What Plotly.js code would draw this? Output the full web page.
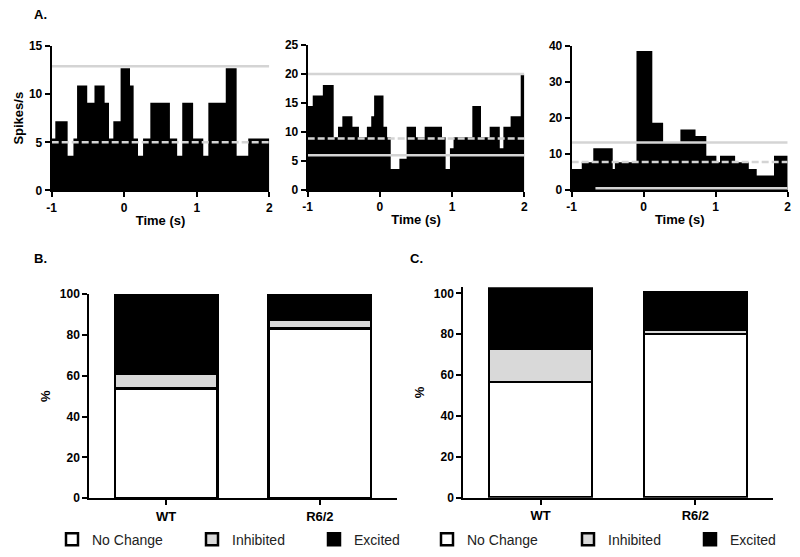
<!DOCTYPE html>
<html>
<head>
<meta charset="utf-8">
<script src="https://cdn.plot.ly/plotly-3.0.1.min.js"></script>
<style>
body { margin: 0; background: #fff; }
#chart { width: 800px; height: 557px; }
</style>
</head>
<body>
<div id="chart"></div>
<script>
// A. PSTHs: left edge of each bin (s) and firing rate (spikes/s)
var tEnd = 2;
var edges1 = [-1.00, -0.95, -0.78, -0.70, -0.65, -0.51, -0.41, -0.27, -0.21, -0.15, -0.05, 0.08, 0.13, 0.19, 0.26, 0.36, 0.63, 0.73, 0.80, 0.95, 1.09, 1.16, 1.40, 1.55, 1.71];
var rates1 = [5.4, 7.2, 3.6, 5.4, 10.9, 9.1, 10.9, 9.1, 5.4, 7.2, 12.7, 10.9, 5.4, 3.6, 5.4, 9.1, 5.4, 3.6, 9.1, 5.4, 3.6, 9.1, 12.7, 3.6, 5.4];
var thresh1 = [12.9, 5.0];          // upper limit, mean

var edges2 = [-1.00, -0.93, -0.79, -0.64, -0.58, -0.52, -0.38, -0.29, -0.18, -0.12, -0.08, 0.05, 0.10, 0.15, 0.27, 0.37, 0.50, 0.62, 0.86, 0.91, 0.97, 1.02, 1.28, 1.40, 1.52, 1.66, 1.71, 1.81, 1.95];
var rates2 = [14.5, 16.3, 18.1, 9.1, 10.9, 12.7, 10.9, 9.1, 10.9, 12.7, 16.3, 10.9, 9.1, 3.6, 5.4, 10.9, 9.1, 10.9, 9.1, 3.6, 7.2, 9.1, 14.5, 9.1, 10.9, 7.2, 10.9, 12.7, 19.9];
var thresh2 = [20.0, 8.9, 6.0];     // upper, mean, lower

var edges3 = [-1.00, -0.86, -0.70, -0.43, -0.40, -0.10, 0.12, 0.27, 0.51, 0.72, 0.87, 1.01, 1.06, 1.27, 1.46, 1.57, 1.81];
var rates3 = [5.8, 7.7, 11.6, 5.8, 7.7, 38.6, 18.7, 13.2, 16.8, 15.0, 9.5, 7.7, 9.5, 7.7, 5.8, 4.0, 9.5];
var thresh3 = [13.2, 7.8];
var lower3 = [-0.67, 0.5];          // start time, level

// B. and C. proportion of units (%)
var groups = ['WT', 'R6/2'];
var noChangeB = [53.8, 83.2];
var inhibitedB = [7.4, 4.1];
var excitedB = [38.8, 12.7];
var noChangeC = [56.5, 80.0];
var inhibitedC = [16.3, 2.1];
var excitedC = [29.9, 18.4];

var F = 'Liberation Sans, Arial, sans-serif';
var lightGrey = '#d4d4d4';

function psth(edges, rates, n) {
    return {
        x: edges.concat([tEnd]),
        y: rates.concat([rates[rates.length - 1]]),
        type: 'scatter', mode: 'lines',
        line: {shape: 'hv', width: 0, color: '#000'},
        fill: 'tozeroy', fillcolor: '#000',
        xaxis: 'x' + n, yaxis: 'y' + n,
        showlegend: false, hoverinfo: 'skip'
    };
}

function hline(level, dashed, n, start) {
    return {
        x: [start === undefined ? -1 : start, tEnd],
        y: [level, level],
        type: 'scatter', mode: 'lines',
        line: {color: lightGrey, width: 2.5, dash: dashed ? '7px,3px' : 'solid'},
        xaxis: 'x' + n, yaxis: 'y' + n,
        showlegend: false, hoverinfo: 'skip'
    };
}

function stack(name, vals, color, n, leg) {
    return {
        x: groups, y: vals, name: name, type: 'bar',
        width: 0.667,
        marker: {color: color, line: {color: '#000', width: 2.5}},
        xaxis: 'x' + n, yaxis: 'y' + n,
        legend: leg
    };
}

var data = [
    psth(edges1, rates1, ''), hline(thresh1[0], false, ''), hline(thresh1[1], true, ''),
    psth(edges2, rates2, 2), hline(thresh2[0], false, 2), hline(thresh2[2], false, 2), hline(thresh2[1], true, 2),
    psth(edges3, rates3, 3), hline(thresh3[0], false, 3), hline(thresh3[1], true, 3), hline(lower3[1], false, 3, lower3[0]),
    stack('No Change', noChangeB, '#fff', 4, 'legend'),
    stack('Inhibited', inhibitedB, '#d9d9d9', 4, 'legend2'),
    stack('Excited', excitedB, '#000', 4, 'legend3'),
    stack('No Change', noChangeC, '#fff', 5, 'legend4'),
    stack('Inhibited', inhibitedC, '#d9d9d9', 5, 'legend5'),
    stack('Excited', excitedC, '#000', 5, 'legend6')
];

var tickF = {family: F, size: 12, color: '#000', weight: 'bold'};
var titleF = {family: F, size: 13, color: '#000', weight: 'bold'};

function ax(o) {
    var a = {
        showline: true, linecolor: '#000', linewidth: 2,
        ticks: 'outside', ticklen: 5, tickwidth: 2, tickcolor: '#000',
        showgrid: false, zeroline: false, tickfont: tickF, fixedrange: true
    };
    for (var k in o) a[k] = o[k];
    return a;
}

function timeAxis(dom, anchor) {
    return ax({
        domain: dom, anchor: anchor, range: [-1, 2],
        tickvals: [-1, 0, 1, 2], ticktext: ['-1', '0', '1', '2'],
        title: {text: 'Time (s)', font: titleF, standoff: 2}
    });
}

function groupAxis(dom, anchor) {
    return ax({domain: dom, anchor: anchor, type: 'category', range: [-0.5, 1.5],
        tickfont: {family: F, size: 13, color: '#000', weight: 'bold'}});
}

function pctAxis(dom, anchor, top) {
    return ax({domain: dom, anchor: anchor, range: [0, top], tickvals: [0, 20, 40, 60, 80, 100],
        title: {text: '%', font: titleF, standoff: 6}});
}

// one legend per entry so each key sits where the original has it
function leg(px) {
    return {
        orientation: 'h', xanchor: 'left', yanchor: 'middle', y: 0.031, x: px / 800,
        font: {family: F, size: 14, color: '#222'},
        bgcolor: 'rgba(0,0,0,0)', borderwidth: 0
    };
}

var layout = {
    width: 800, height: 557, autosize: false,
    margin: {l: 0, r: 0, t: 0, b: 0},
    paper_bgcolor: '#fff', plot_bgcolor: 'rgba(0,0,0,0)',
    barmode: 'stack',
    xaxis: timeAxis([0.0646, 0.3366], 'y'),
    yaxis: ax({domain: [0.658, 0.9174], anchor: 'x', range: [0, 15], dtick: 5,
        title: {text: 'Spikes/s', font: titleF, standoff: 2}}),
    xaxis2: timeAxis([0.3846, 0.6554], 'y2'),
    yaxis2: ax({domain: [0.6589, 0.9192], anchor: 'x2', range: [0, 25], dtick: 5}),
    xaxis3: timeAxis([0.7146, 0.9846], 'y3'),
    yaxis3: ax({domain: [0.6589, 0.9174], anchor: 'x3', range: [0, 40], dtick: 10}),
    xaxis4: groupAxis([0.1116, 0.4959], 'y4'),
    yaxis4: pctAxis([0.1054, 0.4722], 'x4', 100),
    xaxis5: groupAxis([0.5791, 0.9659], 'y5'),
    // WT stack in C adds up to a little over 100 %, so the range runs past 100
    yaxis5: pctAxis([0.1065, 0.4844], 'x5', 103),
    legend: leg(52),
    legend2: leg(192),
    legend3: leg(314),
    legend4: leg(427),
    legend5: leg(568),
    legend6: leg(690),
    annotations: [
        {text: 'A.', x: 32 / 800, y: 1 - 15 / 557},
        {text: 'B.', x: 32 / 800, y: 1 - 258 / 557},
        {text: 'C.', x: 408 / 800, y: 1 - 258 / 557}
    ].map(function (a) {
        a.xref = 'paper'; a.yref = 'paper'; a.showarrow = false;
        a.xanchor = 'left'; a.yanchor = 'middle';
        a.font = {family: F, size: 13, color: '#000', weight: 'bold'};
        return a;
    })
};

Plotly.newPlot('chart', data, layout, {displayModeBar: false, staticPlot: true});
</script>
</body>
</html>
